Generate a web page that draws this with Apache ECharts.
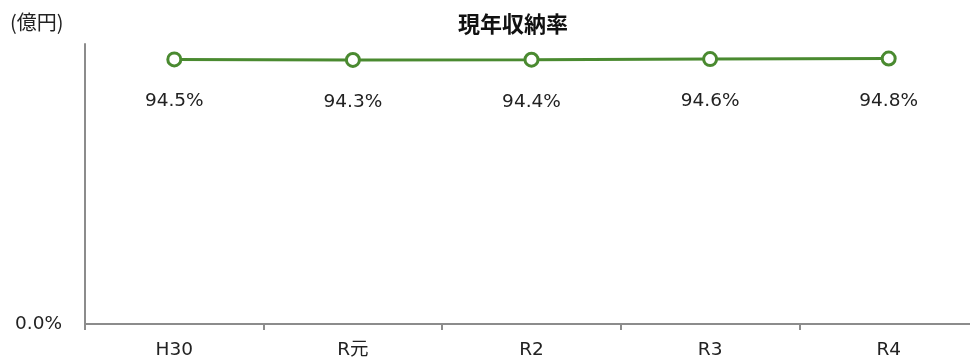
<!DOCTYPE html>
<html><head><meta charset="utf-8">
<script src="https://cdn.jsdelivr.net/npm/echarts@6/dist/echarts.min.js"></script>
<style>html,body{margin:0;padding:0;background:#fff}#c{width:970px;height:364px}</style>
</head><body><div id="c"></div>
<script>
const categories = ['H30', 'R元', 'R2', 'R3', 'R4'];
const rates = [94.5, 94.3, 94.4, 94.6, 94.8];
const yTicks = [0, 100];
const titleText = '現年収納率';
const unitText = '(億円)';

const FONT = '"DejaVu Sans", "Noto Sans CJK JP", sans-serif';
const chart = echarts.init(document.getElementById('c'));
chart.setOption({
  animation: false,
  title: [
    { text: titleText, left: 508, top: 8, textAlign: 'center',
      textStyle: { fontFamily: '"Noto Sans CJK JP", sans-serif', fontSize: 22, fontWeight: 'bold', color: '#111' } },
    { text: unitText, left: 5, top: 7,
      textStyle: { fontFamily: '"Noto Sans CJK JP", sans-serif', fontSize: 20, fontWeight: 'normal', color: '#222' } }
  ],
  grid: { left: 85, width: 893, top: 44, bottom: 40, containLabel: false, outerBoundsMode: 'none' },
  xAxis: {
    type: 'category', data: categories, boundaryGap: true,
    axisLine: { lineStyle: { color: '#8c8c8c', width: 2 } },
    axisTick: { show: true, length: 6, lineStyle: { color: '#8c8c8c', width: 2 } },
    axisLabel: { margin: 17, fontFamily: FONT, fontSize: 18.5, color: '#222' }
  },
  yAxis: {
    type: 'value', min: yTicks[0], max: yTicks[1], interval: 100,
    splitLine: { show: false },
    axisLine: { show: true, lineStyle: { color: '#8c8c8c', width: 2 } },
    axisTick: { show: false },
    axisLabel: { margin: 23, fontFamily: FONT, fontSize: 18.5, color: '#222',
      formatter: v => v === 0 ? v.toFixed(1) + '%' : '' }
  },
  series: [{
    type: 'line', data: rates,
    lineStyle: { color: '#4A8A30', width: 3 },
    itemStyle: { color: '#fff', borderColor: '#4A8A30', borderWidth: 3 },
    symbol: 'circle', symbolSize: 13,
    label: { show: true, position: 'bottom', distance: 25, fontFamily: FONT, fontSize: 18.5, color: '#222',
      formatter: p => p.value.toFixed(1) + '%' }
  }]
});
</script></body></html>
